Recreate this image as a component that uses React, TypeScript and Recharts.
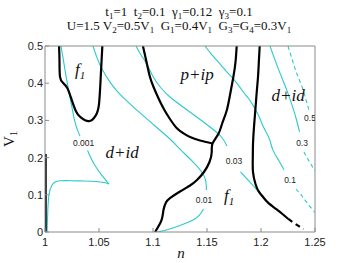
import React from 'react';
import { ComposedChart, Line, Scatter, XAxis, YAxis } from 'recharts';

type Pt = { n: number; v: number };
const toPts = (a: number[][]): Pt[] => a.map(([n, v]) => ({ n, v }));

// axis ticks
const X_TICKS = [1, 1.05, 1.1, 1.15, 1.2, 1.25];
const Y_TICKS = [0, 0.1, 0.2, 0.3, 0.4, 0.5];

// black phase boundaries
const blackF1Loop = [
  [1.013, 0.5], [1.0134, 0.462], [1.0139, 0.417], [1.0167, 0.401], [1.0206, 0.387],
  [1.0238, 0.363], [1.0284, 0.326], [1.0331, 0.308], [1.0407, 0.298], [1.0469, 0.313],
  [1.05, 0.344], [1.0516, 0.417], [1.0531, 0.5],
];
const blackPip = [
  [1.0907, 0.5], [1.094, 0.457], [1.0972, 0.4167], [1.1005, 0.3898], [1.1037, 0.3683],
  [1.1074, 0.3454], [1.1111, 0.3253], [1.1157, 0.3038], [1.1219, 0.2796], [1.1278, 0.2661],
  [1.1343, 0.2554], [1.1435, 0.246], [1.1551, 0.2379],
];
const blackMiddle = [
  [1.1775, 0.5], [1.1764, 0.457], [1.1744, 0.4167], [1.1713, 0.3683], [1.1682, 0.3261],
  [1.1639, 0.2903], [1.1605, 0.2634], [1.1551, 0.2379], [1.1544, 0.2151], [1.1523, 0.1882],
  [1.1472, 0.1613], [1.1407, 0.1398], [1.1343, 0.125], [1.125, 0.109], [1.1157, 0.091],
  [1.112, 0.079], [1.1097, 0.059], [1.1079, 0.032], [1.1019, 0],
];
const blackRight = [
  [1.1988, 0.5], [1.198, 0.457], [1.1972, 0.416], [1.1959, 0.371], [1.1947, 0.326],
  [1.1935, 0.282], [1.1926, 0.237], [1.1924, 0.199], [1.1926, 0.161], [1.1949, 0.129],
  [1.1977, 0.11], [1.2019, 0.094], [1.2065, 0.079], [1.2139, 0.062], [1.2204, 0.047],
  [1.2253, 0.035],
];
const blackRightDashed = [[1.2253, 0.035], [1.2319, 0.0215], [1.2394, 0.008]];
const blackLeftEdge = [[1.0006, 0], [1.0006, 0.21]];

// cyan contours
const c0001Upper = [
  [1.0148, 0.5], [1.0167, 0.468], [1.0185, 0.436], [1.0213, 0.39], [1.0247, 0.339],
  [1.0273, 0.301], [1.0301, 0.274], [1.0324, 0.258],
];
const c0001Lower = [
  [1.0394, 0.219], [1.0454, 0.183], [1.0531, 0.151], [1.0593, 0.129],
];
const c0001Tail = [
  [1.0593, 0.129], [1.0546, 0.133], [1.0472, 0.1358], [1.0361, 0.1371], [1.0232, 0.1379],
  [1.0139, 0.1376], [1.0093, 0.1344], [1.006, 0.1237], [1.0037, 0.0995], [1.0026, 0.0591],
  [1.0019, 0],
];
const c001Upper = [
  [1.0444, 0.5], [1.0482, 0.468], [1.0528, 0.438], [1.0602, 0.403], [1.0676, 0.376],
  [1.0759, 0.352], [1.088, 0.32], [1.1019, 0.285], [1.1157, 0.25], [1.125, 0.223],
  [1.1361, 0.191], [1.1444, 0.164], [1.1486, 0.14], [1.1495, 0.113],
];
const c001Lower = [
  [1.1468, 0.062], [1.1426, 0.044], [1.1361, 0.031], [1.125, 0.0175], [1.1139, 0.0067],
  [1.1037, 0],
];
const c003Upper = [
  [1.0843, 0.5], [1.0889, 0.4758], [1.0942, 0.4516], [1.1003, 0.4167], [1.1074, 0.3871],
  [1.1157, 0.3629], [1.1278, 0.336], [1.1405, 0.3091], [1.1528, 0.2823], [1.163, 0.2567],
  [1.1685, 0.2312],
];
const c003Lower = [
  [1.181, 0.1613], [1.187, 0.1425], [1.1926, 0.125], [1.1965, 0.112], [1.2019, 0.094],
  [1.2065, 0.079], [1.2139, 0.062], [1.2204, 0.047], [1.2253, 0.035],
];
const c01Upper = [
  [1.1481, 0.5], [1.1546, 0.476], [1.162, 0.452], [1.1694, 0.427], [1.1769, 0.403],
  [1.1833, 0.3777], [1.1889, 0.3575], [1.1935, 0.336], [1.1982, 0.3105], [1.2023, 0.2823],
  [1.2074, 0.253], [1.2111, 0.22], [1.2167, 0.191], [1.2213, 0.167],
];
const c01LowerDashed = [[1.2324, 0.1156], [1.238, 0.0968], [1.2435, 0.0753], [1.25, 0.0524]];
const c03Upper = [
  [1.2083, 0.5], [1.213, 0.462], [1.2176, 0.427], [1.2238, 0.382], [1.2287, 0.341],
  [1.2324, 0.3065], [1.2357, 0.269],
];
const c03LowerDashed = [[1.2398, 0.215], [1.2444, 0.191], [1.25, 0.164]];
const c05Dashed = [
  [1.225, 0.5], [1.2296, 0.457], [1.2333, 0.4247], [1.238, 0.39], [1.2417, 0.355], [1.2444, 0.328],
];

// contour level labels
const contourLabels = [
  { n: 1.0357, v: 0.239, label: '0.001' },
  { n: 1.1472, v: 0.085, label: '0.01' },
  { n: 1.175, v: 0.192, label: '0.03' },
  { n: 1.2269, v: 0.14, label: '0.1' },
  { n: 1.238, v: 0.239, label: '0.3' },
  { n: 1.2454, v: 0.3065, label: '0.5' },
];

// phase region labels (start of baseline)
const regionLabels = [
  { n: 1.0278, v: 0.422, main: 'f', sub: '1' },
  { n: 1.056, v: 0.199, main: 'd+id', sub: '' },
  { n: 1.1255, v: 0.4086, main: 'p+ip', sub: '' },
  { n: 1.2097, v: 0.352, main: 'd+id', sub: '' },
  { n: 1.1657, v: 0.083, main: 'f', sub: '1' },
];

const titleLine1: (string | [string, string])[] = [
  ['t', '1'], '=1  ', ['t', '2'], '=0.1  ', ['γ', '1'], '=0.12  ', ['γ', '3'], '=0.1',
];
const titleLine2: (string | [string, string])[] = [
  'U=1.5 ', ['V', '2'], '=0.5', ['V', '1'], '  ', ['G', '1'], '=0.4', ['V', '1'], '  ',
  ['G', '3'], '=', ['G', '4'], '=0.3', ['V', '1'],
];

const CYAN = '#2bc9cc';
const SERIF = "'Liberation Serif', 'Times New Roman', serif";
const SANS = "'Liberation Sans', Arial, sans-serif";

function rich(parts: (string | [string, string])[], subSize: number, shift: number) {
  const tokens: { t: string; sub: boolean }[] = [];
  parts.forEach((p) => {
    if (typeof p === 'string') tokens.push({ t: p, sub: false });
    else {
      tokens.push({ t: p[0], sub: false });
      tokens.push({ t: p[1], sub: true });
    }
  });
  let cur = 0;
  return tokens.map((tk, i) => {
    const target = tk.sub ? shift : 0;
    const dy = target - cur;
    cur = target;
    return (
      <tspan key={i} dy={dy} fontSize={tk.sub ? subSize : undefined}>
        {tk.t}
      </tspan>
    );
  });
}

const lineProps = { dot: false, activeDot: false, isAnimationActive: false, type: 'natural' as const, dataKey: 'v' };

export default function App() {
  const blacks = [blackF1Loop, blackPip, blackMiddle, blackRight, blackLeftEdge];
  const cyans = [c0001Upper, c0001Lower, c0001Tail, c001Upper, c001Lower, c003Upper, c003Lower, c01Upper, c03Upper];
  const cyanDashed = [c01LowerDashed, c03LowerDashed, c05Dashed];
  return (
    <div style={{ position: 'absolute', left: 0, top: 0, width: 349, height: 263, background: '#fff' }}>
      <ComposedChart width={349} height={263} margin={{ top: 45, right: 33, bottom: 11, left: 15 }}>
        <XAxis
          dataKey="n"
          type="number"
          domain={[1, 1.25]}
          ticks={X_TICKS}
          allowDataOverflow
          height={20}
          tickSize={-4}
          tickMargin={10}
          stroke="#8a8a8a"
          tick={{ fontSize: 11, fill: '#222', fontFamily: SANS }}
        />
        <XAxis
          xAxisId="top"
          orientation="top"
          dataKey="n"
          type="number"
          domain={[1, 1.25]}
          ticks={X_TICKS}
          allowDataOverflow
          height={1}
          tickSize={-4}
          tick={false}
          stroke="#8a8a8a"
        />
        <YAxis
          dataKey="v"
          type="number"
          domain={[0, 0.5]}
          ticks={Y_TICKS}
          allowDataOverflow
          width={30}
          tickSize={-4}
          tickMargin={6}
          stroke="#8a8a8a"
          tick={{ fontSize: 11, fill: '#222', fontFamily: SANS }}
        />
        <YAxis
          yAxisId="right"
          orientation="right"
          dataKey="v"
          type="number"
          domain={[0, 0.5]}
          ticks={Y_TICKS}
          allowDataOverflow
          width={1}
          tickSize={-4}
          tick={false}
          stroke="#8a8a8a"
        />
        {cyans.map((d, i) => (
          <Line key={'c' + i} {...lineProps} data={toPts(d)} stroke={CYAN} strokeWidth={1.1} />
        ))}
        {cyanDashed.map((d, i) => (
          <Line key={'cd' + i} {...lineProps} data={toPts(d)} stroke={CYAN} strokeWidth={1.1} strokeDasharray="4 3" />
        ))}
        {blacks.map((d, i) => (
          <Line key={'b' + i} {...lineProps} data={toPts(d)} stroke="#000" strokeWidth={2.2} />
        ))}
        <Line {...lineProps} data={toPts(blackRightDashed)} stroke="#000" strokeWidth={2.2} strokeDasharray="5 4" />
        <Scatter
          data={contourLabels}
          isAnimationActive={false}
          shape={(p: any) => (
            <text x={p.cx} y={p.cy + 3} textAnchor="middle" fontSize={8.5} fontFamily={SANS} fill="#222">
              {p.payload.label}
            </text>
          )}
        />
        <Scatter
          data={regionLabels}
          isAnimationActive={false}
          shape={(p: any) => (
            <text x={p.cx} y={p.cy} fontSize={17} fontStyle="italic" fontFamily={SERIF} fill="#111">
              {p.payload.main}
              {p.payload.sub ? (
                <tspan dy={4} fontSize={11}>
                  {p.payload.sub}
                </tspan>
              ) : null}
            </text>
          )}
        />
      </ComposedChart>
      <svg
        width={349}
        height={263}
        style={{ position: 'absolute', left: 0, top: 0, pointerEvents: 'none' }}
      >
        <text x={179} y={15.5} textAnchor="middle" fontFamily={SERIF} fontSize={13} fill="#111" style={{ whiteSpace: 'pre' }}>
          {rich(titleLine1, 9, 3)}
        </text>
        <text x={179} y={30} textAnchor="middle" fontFamily={SERIF} fontSize={13} fill="#111" style={{ whiteSpace: 'pre' }}>
          {rich(titleLine2, 9, 3)}
        </text>
        <text x={181} y={258} textAnchor="middle" fontFamily={SERIF} fontStyle="italic" fontSize={15} fill="#111">
          n
        </text>
        <text transform="translate(13.5,139) rotate(-90)" textAnchor="middle" fontFamily={SERIF} fontSize={15} fill="#111">
          V<tspan dy={3.5} fontSize={10}>1</tspan>
        </text>
      </svg>
    </div>
  );
}
